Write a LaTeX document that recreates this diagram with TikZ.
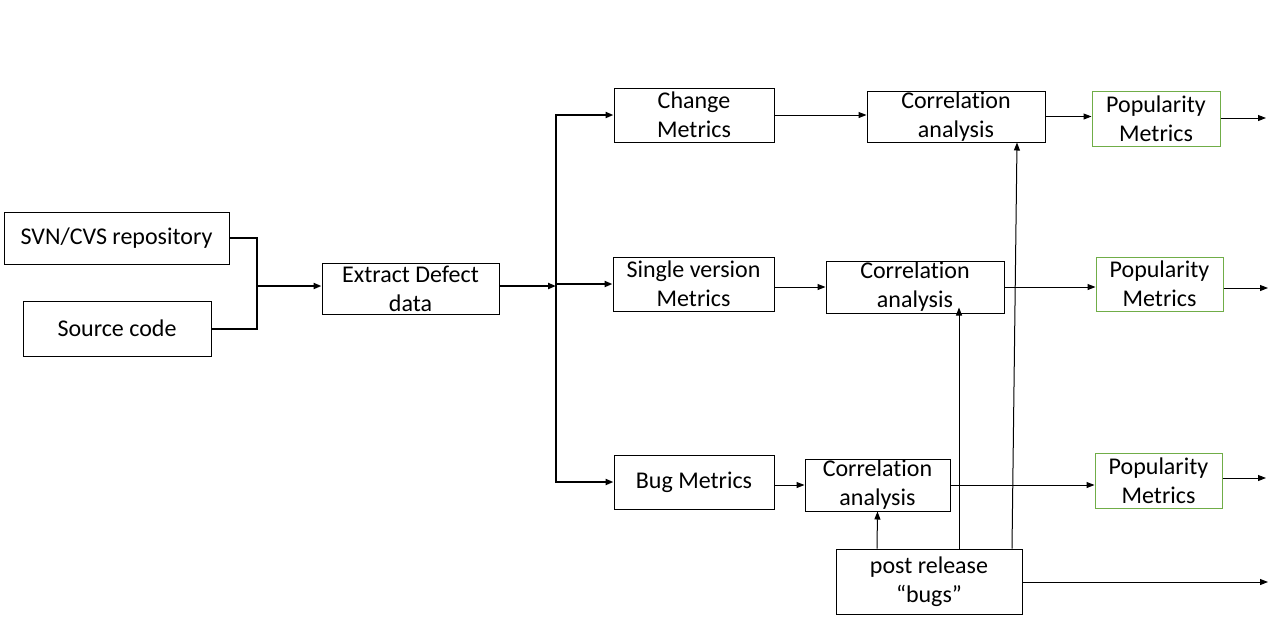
\documentclass[tikz,border=0pt]{standalone}
\usepackage{fontspec}
\setmainfont{Carlito}[Ligatures=NoCommon]
\usetikzlibrary{arrows.meta}
\definecolor{popgreen}{RGB}{112,173,71}
\tikzset{
  box/.style={draw,line width=0.5pt,inner sep=0pt,align=center,
    font=\fontsize{12}{14.5}\selectfont},
  popbox/.style={box,draw=popgreen},
  arr/.style={-{Triangle[length=4pt,width=3pt]},line width=0.5pt},
  thickarr/.style={arr,line width=1pt},
}
\begin{document}
\begin{tikzpicture}[x=0.5pt,y=-0.5pt]
      \useasboundingbox (0,0) rectangle (1270,628);
      % sources
      \node[box,minimum width=112.5pt,minimum height=26pt] (svn) at (116.5,238) {SVN/CVS repository};
      \node[box,minimum width=94pt,minimum height=27.5pt] (src) at (117,328.5) {Source code};
      \node[box,minimum width=88.5pt,minimum height=25.5pt] (ext) at (410.5,288.5) {Extract Defect\\data};
      % metrics
      \node[box,minimum width=80pt,minimum height=27pt] (chg) at (694,115) {Change\\Metrics};
      \node[box,minimum width=80.5pt,minimum height=27pt] (sgl) at (693.5,284) {Single version\\Metrics};
      \node[box,minimum width=80pt,minimum height=27pt] (bug) at (694,482) {Bug Metrics};
      % correlation
      \node[box,minimum width=89pt,minimum height=25.5pt] (ct) at (956,116.5) {Correlation\\analysis};
      \node[box,minimum width=89pt,minimum height=26pt] (cm) at (915,287) {Correlation\\analysis};
      \node[box,minimum width=72.5pt,minimum height=26pt] (cb) at (877.5,485) {Correlation\\analysis};
      \node[box,minimum width=93pt,minimum height=32.5pt] (pr) at (929,581.5) {post release\\“bugs”};
      % popularity
      \node[popbox,minimum width=64pt,minimum height=27.5pt] (pt) at (1156,118.5) {Popularity\\Metrics};
      \node[popbox,minimum width=63.5pt,minimum height=27pt] (pm) at (1159.5,284) {Popularity\\Metrics};
      \node[popbox,minimum width=63.5pt,minimum height=27.5pt] (pb) at (1158.5,480.5) {Popularity\\Metrics};
      \coordinate (j1) at (257,286);
      \coordinate (j2) at (556,286);
      \coordinate (ot) at (1266,118);
      \coordinate (om) at (1268,288);
      \coordinate (ob) at (1266,478);
      \coordinate (op) at (1268,582);
      \begin{scope}[line width=1pt]
        \draw (svn.east) -| (j1);
        \draw (src.east) -| (j1);
        \draw[thickarr] (j1) -- (j1 -| ext.west);
        \draw[thickarr] (ext.east |- j2) -- (j2);
        \draw[thickarr] (j2) |- (chg.west);
        \draw[thickarr] (j2) |- (sgl.west);
        \draw[thickarr] (j2) |- (bug.west);
      \end{scope}
      \begin{scope}[arr]
        \draw (chg.east) -- (chg.east -| ct.west);
        \draw (sgl.east |- cm.west) -- (cm.west);
        \draw (bug.east |- cb.west) -- (cb.west);
        \draw (ct.east) -- (ct.east -| pt.west);
        \draw (cm.east) -- (cm.east -| pm.west);
        \draw (cb.east) -- (cb.east -| pb.west);
        \draw (pt.east |- ot) -- (ot);
        \draw (pm.east |- om) -- (om);
        \draw (pb.east |- ob) -- (ob);
        \draw (pr.east |- op) -- (op);
        \draw ([xshift=-26pt]pr.north) -- (cb.south);
        \draw[shorten >=-3pt] ([xshift=15pt]pr.north) -- ([xshift=15pt]pr.north |- cm.south);
        \draw ([xshift=41.5pt]pr.north) -- ([xshift=30.5pt]ct.south);
      \end{scope}
    \end{tikzpicture}
\end{document}
